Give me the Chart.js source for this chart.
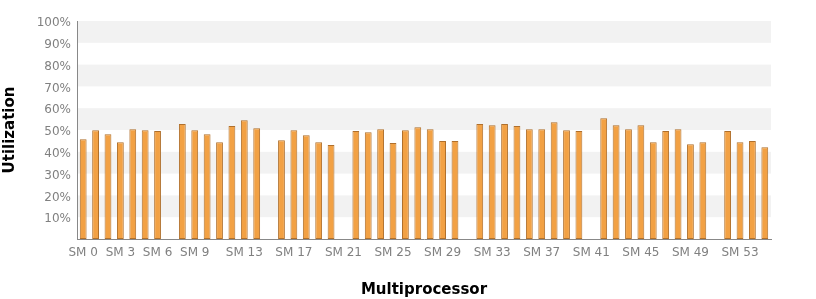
<!DOCTYPE html>
<html>
<head>
<meta charset="utf-8">
<script src="https://cdn.jsdelivr.net/npm/chart.js@4"></script>
<style>
  html, body { margin: 0; padding: 0; background: #fff; }
</style>
</head>
<body>
<canvas id="myChart" width="816" height="299"></canvas>
<script>
// SM index labels
const categories = Array.from({ length: 56 }, (_, i) => "SM " + i);

// utilization per multiprocessor (%), null = no bar
const utilization = [
    45.8, 49.9, 48.1, 44.4, 50.4, 49.9, 49.5, null,
    52.7, 49.9, 48.1, 44.4, 51.8, 54.5, 50.8, null,
    45.3, 49.9, 47.6, 44.4, 43.1, null, 49.5, 49.0,
    50.4, 44.0, 49.9, 51.3, 50.4, 44.9, 44.9, null,
    52.7, 52.2, 52.7, 51.8, 50.4, 50.4, 53.6, 49.9,
    49.5, null, 55.4, 52.2, 50.4, 52.2, 44.4, 49.5,
    50.4, 43.5, 44.4, null, 49.5, 44.4, 44.9, 42.1,
];

// which x labels are shown
const shownTicks = [0, 3, 6, 9, 13, 17, 21, 25, 29, 33, 37, 41, 45, 49, 53];

// alternating grey bands (lower bound of each shaded 10% band)
const bandStarts = [10, 30, 50, 70, 90];

const FONT = "'DejaVu Sans', sans-serif";

const bands = {
    id: "bands",
    beforeDraw(chart) {
        const { ctx, chartArea, scales } = chart;
        ctx.save();
        ctx.fillStyle = "#f2f2f2";
        bandStarts.forEach((v) => {
            const y1 = scales.y.getPixelForValue(v + 10);
            const y2 = scales.y.getPixelForValue(v);
            ctx.fillRect(chartArea.left, y1, chartArea.right - chartArea.left, y2 - y1);
        });
        ctx.restore();
    },
};

new Chart(document.getElementById("myChart"), {
    type: "bar",
    data: {
        labels: categories,
        datasets: [
            {
                data: utilization,
                backgroundColor: "#f2a144",
                borderColor: "#b0702c",
                borderWidth: 1,
                borderSkipped: false,
                categoryPercentage: 1,
                barPercentage: 0.55,
            },
        ],
    },
    options: {
        responsive: false,
        animation: false,
        layout: { padding: { top: 21, right: 45, left: 0, bottom: 0 } },
        plugins: {
            legend: { display: false },
            tooltip: { enabled: false },
        },
        scales: {
            x: {
                grid: { display: false, drawTicks: false },
                border: { display: true, color: "#888888", width: 1 },
                ticks: {
                    autoSkip: false,
                    maxRotation: 0,
                    padding: 7,
                    color: "#808080",
                    font: { family: FONT, size: 12 },
                    callback: (v, i) => (shownTicks.includes(i) ? categories[i] : ""),
                },
                title: {
                    display: true,
                    text: "Multiprocessor",
                    color: "#000",
                    font: { family: FONT, size: 15, weight: "bold" },
                    padding: { top: 0, bottom: 0 },
                },
                afterFit(scale) {
                    scale.height = 60;
                },
            },
            y: {
                min: 0,
                max: 100,
                grid: { display: false, drawTicks: false },
                border: { display: true, color: "#888888", width: 1 },
                ticks: {
                    stepSize: 10,
                    padding: 6,
                    labelOffset: 2,
                    color: "#808080",
                    font: { family: FONT, size: 12 },
                    callback: (v) => (v === 0 ? "" : v + "%"),
                },
                title: {
                    display: true,
                    text: "Utilization",
                    color: "#000",
                    font: { family: FONT, size: 15, weight: "bold" },
                    padding: { top: 1, bottom: 0 },
                },
                afterFit(scale) {
                    scale.width = 77;
                },
            },
        },
    },
    plugins: [bands],
});
</script>
</body>
</html>
